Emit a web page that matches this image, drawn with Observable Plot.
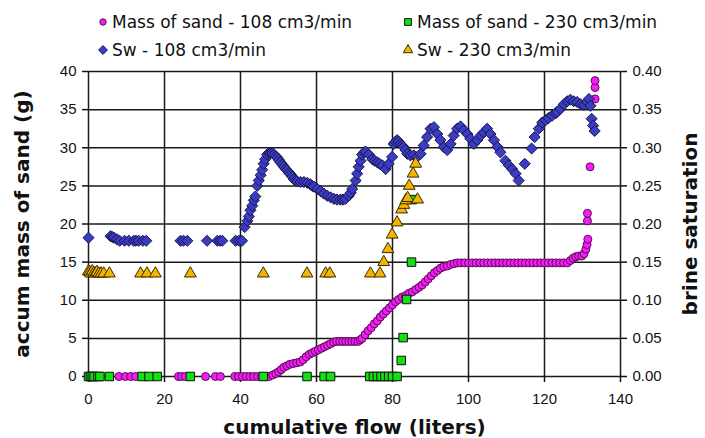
<!DOCTYPE html>
<html>
<head>
<meta charset="utf-8">
<script src="https://cdn.jsdelivr.net/npm/d3@7"></script>
<script src="https://cdn.jsdelivr.net/npm/@observablehq/plot@0.6"></script>
<style>
  html, body { margin: 0; padding: 0; background: #fff; }
  body { width: 705px; height: 438px; overflow: hidden; font-family: "DejaVu Sans", "Liberation Sans", Arial, sans-serif; }
  #legend { position: relative; width: 705px; height: 60px; }
  .item { position: absolute; display: flex; align-items: center; font-size: 17px; color: #111; white-space: nowrap; }
  .item svg { margin-right: 3px; }
</style>
</head>
<body>
<div id="legend"></div>
<div id="chart"></div>
<script>
// ---- data ----
const seriesNames = ["Mass of sand - 108 cm3/min", "Mass of sand - 230 cm3/min", "Sw - 108 cm3/min", "Sw - 230 cm3/min"];
const xTicks = [0, 20, 40, 60, 80, 100, 120, 140];
const yTicks = [0, 5, 10, 15, 20, 25, 30, 35, 40];
const satTicks = ["0.00", "0.05", "0.10", "0.15", "0.20", "0.25", "0.30", "0.35", "0.40"];

// Mass of sand, 108 cm3/min: [cumulative flow (L), mass (g)]
const mass108 = [
  [8,0],[9.7,0],[11.1,0],[12.4,0],[23.7,0],[24.5,0],[25.5,0],[30.8,0],[33.4,0],[34.7,0],
  [38.5,0],[39.5,0],[40.5,0],[41.5,0],[42.5,0],[43.5,0],[44.5,0],[45.5,0],[46.5,0],[47.5,0],
  [48.5,0.2],[49.3,0.4],[50,0.6],[50.7,0.9],[51.4,1.2],[52.2,1.4],[53,1.6],[53.9,1.7],[54.8,1.8],[55.7,1.9],
  [56.5,2.2],[57.3,2.6],[58.1,2.9],[58.9,3.1],[59.7,3.3],[60.5,3.5],[61.3,3.7],[62.1,3.9],[62.9,4.1],[63.7,4.3],
  [64.5,4.5],[65.3,4.6],[66.1,4.6],[66.9,4.6],[67.7,4.6],[68.5,4.6],[69.3,4.6],[70.1,4.6],[70.9,4.6],[71.5,4.8],
  [72,5.0],[72.8,5.5],[73.6,6.0],[74.4,6.4],[75.2,6.9],[76,7.3],[76.8,7.8],[77.6,8.2],[78.4,8.6],[79.2,9.0],
  [80,9.4],[80.8,9.8],[81.6,10.1],[82.5,10.4],[83.4,10.6],[84.3,10.9],[85.2,11.1],[86.1,11.4],[87,11.7],[87.8,12.0],
  [88.6,12.4],[89.4,12.8],[90.2,13.2],[91,13.6],[91.8,13.9],[92.6,14.2],[93.5,14.4],[94.4,14.5],[95.3,14.7],[96.2,14.8],
  [97.1,14.9],[98,14.9],[99,14.9],[100,14.9],[101,14.9],[102,14.9],[103,14.9],[104,14.9],[105,14.9],[106,14.9],
  [107,14.9],[108,14.9],[109,14.9],[110,14.9],[111,14.9],[112,14.9],[113,14.9],[114,14.9],[115,14.9],[116,14.9],
  [117,14.9],[118,14.9],[119,14.9],[120,14.9],[121,14.9],[122,14.9],[123,14.9],[124,14.9],[125,14.9],[126,14.9],
  [126.8,15.2],[127.5,15.5],[128.2,15.7],[129,15.8],[129.8,15.8],[130.4,16.1],[130.9,16.7],[131.2,17.3],[131.4,18.0],
  [131.3,20.4],[131.3,21.4],[132,27.5],[133.3,36.4],[133.3,37.9],[133.3,38.8]
];

// Mass of sand, 230 cm3/min
const mass230 = [
  [0,0],[0.5,0],[1,0],[1.5,0],[2.5,0],[3,0],[5.5,0],[14.1,0],[15.9,0],[18.1,0],[26.8,0],[46,0],
  [57.5,0],[62,0],[63.7,0],[74,0],[75,0],[76,0],[77,0],[78,0],[79,0],[80,0],[81.2,0],
  [82.3,2.1],[82.8,5.1],[83.7,10.1],[85,15],[85.2,23.2]
];

// Brine saturation, 108 cm3/min
const sw108 = [
  [0,0.182],[5.8,0.184],[6.3,0.183],[6.7,0.182],[7.5,0.18],[8.2,0.178],[9.5,0.178],[10.6,0.178],[11.9,0.178],[12.5,0.178],
  [13.2,0.178],[14.3,0.178],[15.2,0.178],[24.2,0.178],[25,0.178],[26,0.178],[31.2,0.178],[33.9,0.178],[34.6,0.178],[35.2,0.178],
  [38.7,0.178],[39.6,0.178],[40.4,0.178],[41.1,0.196],[41.8,0.204],[42.2,0.21],[42.6,0.218],[43.1,0.224],[43.5,0.231],[43.9,0.236],
  [44.4,0.25],[44.8,0.257],[45.3,0.264],[45.7,0.271],[46.1,0.279],[46.5,0.285],[47,0.291],[47.5,0.293],[47.9,0.293],[48.4,0.293],
  [48.8,0.291],[49.3,0.289],[49.7,0.287],[50.1,0.284],[50.5,0.281],[51,0.278],[51.4,0.275],[51.9,0.272],[52.3,0.27],[52.8,0.267],
  [53.2,0.265],[53.6,0.262],[54,0.259],[54.5,0.257],[54.9,0.256],[55.8,0.255],[56.7,0.255],[57.6,0.254],[58.4,0.252],[58.9,0.25],
  [59.3,0.249],[60.2,0.246],[61.1,0.243],[61.9,0.24],[62.8,0.237],[63.7,0.235],[64.6,0.233],[65.4,0.232],[66.3,0.232],[67,0.232],
  [67.6,0.233],[68.5,0.237],[69,0.241],[69.4,0.246],[70.3,0.257],[70.7,0.266],[71.1,0.275],[71.6,0.283],[72,0.291],[72.5,0.294],
  [72.9,0.295],[73.8,0.291],[74.7,0.285],[75.3,0.283],[76,0.281],[76.6,0.279],[77.3,0.277],[78.2,0.272],[79,0.279],[79.9,0.288],
  [80.3,0.305],[80.8,0.308],[81.2,0.31],[81.6,0.308],[82.1,0.305],[82.5,0.303],[82.9,0.301],[83.4,0.297],[83.9,0.292],[84.7,0.29],
  [85.6,0.29],[86.5,0.288],[87.4,0.292],[88.2,0.303],[89.1,0.314],[90,0.325],[90.9,0.327],[91.8,0.318],[92.6,0.31],[93.5,0.301],
  [94.4,0.297],[95.3,0.305],[96.1,0.316],[97,0.325],[97.9,0.328],[98.8,0.323],[99.7,0.318],[100.5,0.312],[101.4,0.305],[102.3,0.31],
  [103.2,0.316],[104,0.32],[104.9,0.325],[105.8,0.318],[106.7,0.31],[107.6,0.301],[108.4,0.294],[109.7,0.283],[110.6,0.277],[111.5,0.272],
  [112.4,0.266],[113.2,0.257],[114.8,0.279],[116.6,0.299],[117.4,0.314],[118.5,0.325],[119.4,0.333],[120.3,0.336],[121.1,0.339],[122,0.342],
  [122.9,0.345],[123.3,0.347],[124.2,0.351],[125.1,0.357],[126,0.361],[126.8,0.363],[127.7,0.361],[128.6,0.36],[129.5,0.357],[130.4,0.356],
  [131.2,0.36],[131.7,0.364],[132.1,0.355],[132.4,0.338],[132.8,0.329],[133.2,0.322]
];

// Brine saturation, 230 cm3/min
const sw230 = [
  [0,0.138],[0.3,0.137],[0.6,0.135],[1,0.138],[1.4,0.136],[1.8,0.135],[2.2,0.137],[2.7,0.135],[3.3,0.135],[4,0.135],[5.5,0.135],
  [13.7,0.135],[15.4,0.135],[17.6,0.135],[26.8,0.135],[46,0.135],[57.5,0.135],[62.4,0.135],[63.5,0.135],[74.2,0.135],[76.7,0.135],
  [77.7,0.15],[78.8,0.167],[79.9,0.186],[81.2,0.202],[82.4,0.219],[83,0.225],[83.5,0.231],[84,0.234],[84.4,0.25],[85.4,0.266],
  [86.1,0.279],[86.6,0.232]
];

const xTitle = "cumulative flow (liters)";
const yTitle = "accum mass of sand (g)";
const y2Title = "brine saturation";

// ---- styles ----
const styles = [
  {symbol: "circle", fill: "#f21ef2", stroke: "#5a0a5a", r: 4},
  {symbol: "square", fill: "#11e011", stroke: "#111", r: 4.8},
  {symbol: "diamond2", fill: "#3b3bc4", stroke: "#16164a", r: 5},
  {symbol: "triangle", fill: "#f4b400", stroke: "#3a2a00", r: 4.4}
];
const datasets = [
  mass108.map(([x, y]) => ({x, y})),
  mass230.map(([x, y]) => ({x, y})),
  sw108.map(([x, s]) => ({x, y: s * 100})),
  sw230.map(([x, s]) => ({x, y: s * 100}))
];

// ---- legend ----
const legendPos = [[97, 22], [402, 22], [97, 50], [402, 50]];
const symMap = {circle: d3.symbolCircle, square: d3.symbolSquare, diamond2: d3.symbolDiamond2, triangle: d3.symbolTriangle};
const legend = document.getElementById("legend");
seriesNames.forEach((name, i) => {
  const st = styles[i];
  const div = document.createElement("div");
  div.className = "item";
  div.style.left = legendPos[i][0] + "px";
  div.style.top = (legendPos[i][1] - 11) + "px";
  const size = Math.PI * (st.r * 0.8) ** 2;
  const path = d3.symbol(symMap[st.symbol], size)();
  div.innerHTML = `<svg width="12" height="22" viewBox="-6 -11 12 22"><path d="${path}" fill="${st.fill}" stroke="${st.stroke}" stroke-width="1"/></svg><span>${name}</span>`;
  legend.appendChild(div);
});

// ---- chart ----
const gridStyle = {stroke: "#1a1a1a", strokeOpacity: 1, strokeWidth: 1.5};
const titleFont = "'DejaVu Sans', 'Liberation Sans', Arial, sans-serif";
const chart = Plot.plot({
  width: 705,
  height: 378,
  marginLeft: 88,
  marginRight: 85,
  marginTop: 11,
  marginBottom: 62,
  x: {domain: [0, 140]},
  y: {domain: [0, 40]},
  style: {fontFamily: "'Liberation Sans', Arial, sans-serif", fontSize: "15px", color: "#111", background: "#fff"},
  marks: [
    Plot.gridX(xTicks, gridStyle),
    Plot.gridY(yTicks, gridStyle),
    Plot.axisX({ticks: xTicks, tickSize: 6, tickPadding: 11, label: null, strokeWidth: 1.5}),
    Plot.axisY({ticks: yTicks, tickSize: 6, tickPadding: 6, label: null, strokeWidth: 1.5}),
    Plot.axisY({anchor: "right", ticks: yTicks, tickSize: 6, tickPadding: 6, label: null, strokeWidth: 1.5,
      tickFormat: (d) => satTicks[yTicks.indexOf(d)]}),
    ...datasets.map((data, i) => Plot.dot(data, {
      x: "x", y: "y", symbol: () => styles[i].symbol, r: styles[i].r,
      fill: styles[i].fill, stroke: styles[i].stroke, strokeWidth: 1
    })),
    Plot.text([xTitle], {frameAnchor: "bottom", lineAnchor: "middle", textAnchor: "middle", dy: 51,
      fontSize: 20, fontWeight: "bold", fontFamily: titleFont, fill: "#111"}),
    Plot.text([yTitle], {frameAnchor: "left", lineAnchor: "middle", textAnchor: "middle", dx: -66, rotate: -90,
      fontSize: 20, fontWeight: "bold", fontFamily: titleFont, fill: "#111"}),
    Plot.text([y2Title], {frameAnchor: "right", lineAnchor: "middle", textAnchor: "middle", dx: 70, rotate: -90,
      fontSize: 20, fontWeight: "bold", fontFamily: titleFont, fill: "#111"})
  ]
});
document.getElementById("chart").appendChild(chart);
</script>
</body>
</html>
